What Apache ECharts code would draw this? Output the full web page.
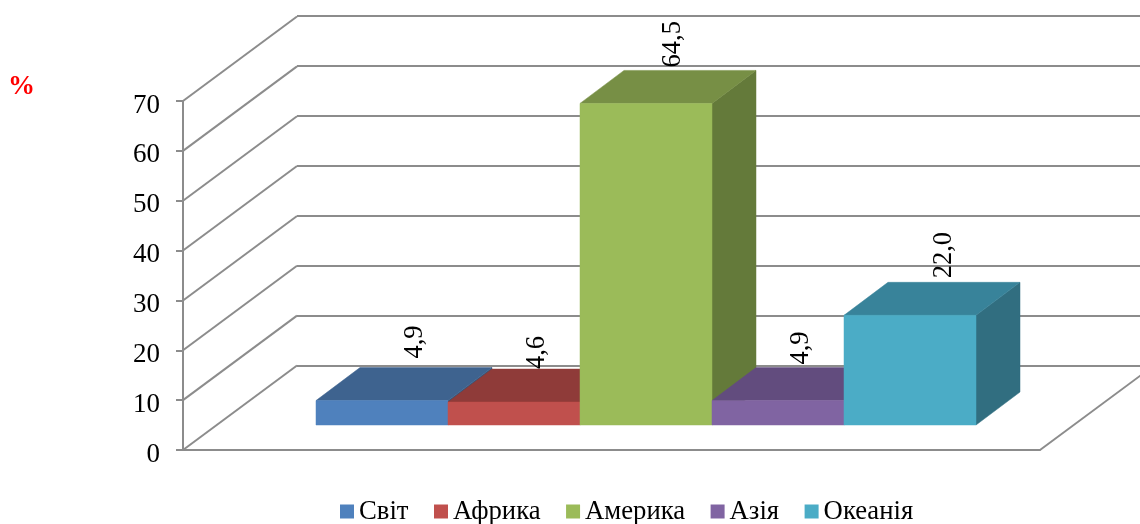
<!DOCTYPE html>
<html>
<head>
<meta charset="utf-8">
<style>html,body{margin:0;padding:0;background:#fff}#c{width:1140px;height:524px}</style>
<script src="https://cdn.jsdelivr.net/npm/echarts@6/dist/echarts.min.js"></script>
</head>
<body>
<div id="c"></div>
<script>
const categories = ['Світ', 'Африка', 'Америка', 'Азія', 'Океанія'];
const values = [4.9, 4.6, 64.5, 4.9, 22.0];
const labels = ['4,9', '4,6', '64,5', '4,9', '22,0'];
const yTicks = [0, 10, 20, 30, 40, 50, 60, 70];
const frontColors = ['#4F81BD', '#C0504D', '#9BBB59', '#8064A2', '#4BACC6'];
const topColors = ['#3E638F', '#8F3B39', '#778F45', '#624C7E', '#38839A'];
const sideColors = ['#355578', '#7A3230', '#647A3A', '#533F6B', '#316E80'];
// label placement relative to the bar's front-top centre
const labelDx = [33, 23, 27, 23, 34];
const labelDy = [42, 33, 36, 36, 37];

const FONT = '"Liberation Serif","Times New Roman",serif';
const GRID = '#8C8C8C';
const WALL_DX = 114, WALL_DY = -84.5; // floor depth
const BAR_DX = 44, BAR_DY = -33;      // bar depth

function renderDiagonal(params, api) {
  const p = api.coord([api.value(0), api.value(1)]);
  return {
    type: 'line', silent: true,
    shape: {x1: p[0], y1: p[1], x2: p[0] + WALL_DX, y2: p[1] + WALL_DY},
    style: {stroke: GRID, lineWidth: 2}
  };
}

function barRenderer(i) {
  return function (params, api) {
    const base = api.coord([i, 0]);
    const top = api.coord([i, api.value(1)]);
    const w = api.size([1, 0])[0];
    const x0 = base[0] - w / 2, x1 = base[0] + w / 2, y0 = base[1], y1 = top[1];
    const poly = (pts, fill) => ({type: 'polygon', shape: {points: pts}, style: {fill: fill, stroke: fill, lineWidth: 0.5}});
    return {
      type: 'group',
      children: [
        poly([[x1, y0], [x1 + BAR_DX, y0 + BAR_DY], [x1 + BAR_DX, y1 + BAR_DY], [x1, y1]], sideColors[i]),
        poly([[x0, y1], [x0 + BAR_DX, y1 + BAR_DY], [x1 + BAR_DX, y1 + BAR_DY], [x1, y1]], topColors[i]),
        poly([[x0, y0], [x1, y0], [x1, y1], [x0, y1]], frontColors[i]),
        {
          type: 'text', x: base[0] + labelDx[i], y: y1 - labelDy[i], rotation: Math.PI / 2, z2: 50,
          style: {text: labels[i], textAlign: 'left', textVerticalAlign: 'middle', fill: '#000', font: '26.5px ' + FONT}
        }
      ]
    };
  };
}

const diagonalData = yTicks.map(v => [0, v]).concat([[1, 0]]);

const option = {
  animation: false,
  backgroundColor: '#fff',
  title: {
    text: '%', left: 3, top: 69,
    textStyle: {color: '#FF0000', fontFamily: FONT, fontWeight: 'bold', fontSize: 27}
  },
  legend: {
    data: categories,
    left: 335, top: 493,
    icon: 'rect', itemWidth: 14, itemHeight: 14, itemGap: 25.5,
    textStyle: {color: '#000', fontFamily: FONT, fontSize: 26.7}
  },
  grid: [
    {left: 183, top: 101, width: 857, height: 349},   // front frame with the value axis
    {left: 297, top: 16, width: 857, height: 350},    // back wall
    {left: 316, top: 76, width: 660, height: 349}     // bars
  ],
  xAxis: [
    {gridIndex: 0, type: 'value', min: 0, max: 1, axisLabel: {show: false}, axisTick: {show: false},
      splitLine: {show: false}, axisLine: {show: true, onZero: false, lineStyle: {color: GRID, width: 2}}},
    {gridIndex: 1, type: 'value', min: 0, max: 1, show: false},
    {gridIndex: 2, type: 'category', data: categories, show: false}
  ],
  yAxis: [
    {gridIndex: 0, type: 'value', min: 0, max: 70, interval: 10,
      axisLine: {show: true, lineStyle: {color: GRID, width: 2}},
      axisTick: {show: true, length: 7, lineStyle: {color: GRID, width: 2}},
      axisLabel: {color: '#000', fontFamily: FONT, fontSize: 27, margin: 23, verticalAlign: 'top', lineHeight: 9},
      splitLine: {show: false}},
    {gridIndex: 1, type: 'value', min: 0, max: 70, interval: 10,
      axisLine: {show: false}, axisTick: {show: false}, axisLabel: {show: false},
      splitLine: {show: true, lineStyle: {color: GRID, width: 2}}},
    {gridIndex: 2, type: 'value', min: 0, max: 70, show: false, splitLine: {show: false}}
  ],
  series: [
    {type: 'custom', name: 'walls', xAxisIndex: 0, yAxisIndex: 0, data: diagonalData,
      renderItem: renderDiagonal, silent: true, clip: false, z: 1},
  ].concat(categories.map((name, i) => ({
    type: 'custom', name: name, xAxisIndex: 2, yAxisIndex: 2,
    itemStyle: {color: frontColors[i]},
    data: [[i, values[i]]],
    encode: {x: 0, y: 1},
    renderItem: barRenderer(i), clip: false, z: 5 + i
  })))
};
echarts.init(document.getElementById('c'), null, {renderer: 'canvas'}).setOption(option);
</script>
</body>
</html>
